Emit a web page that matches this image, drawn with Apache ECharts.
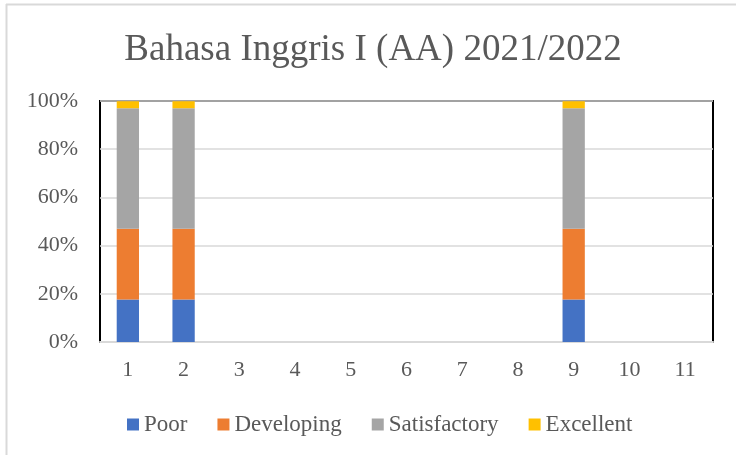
<!DOCTYPE html>
<html>
<head>
<meta charset="utf-8">
<script src="https://cdn.jsdelivr.net/npm/echarts@6/dist/echarts.min.js"></script>
<style>
  html, body { margin: 0; padding: 0; background: #fff; }
  #chart { width: 736px; height: 455px; }
</style>
</head>
<body>
<div id="chart"></div>
<script>
// category labels (1..11)
var categories = ['1', '2', '3', '4', '5', '6', '7', '8', '9', '10', '11'];
// percentages of students per level
var poor         = [17.6, 17.6, 0, 0, 0, 0, 0, 0, 17.6, 0, 0];
var developing   = [29.4, 29.4, 0, 0, 0, 0, 0, 0, 29.4, 0, 0];
var satisfactory = [50.0, 50.0, 0, 0, 0, 0, 0, 0, 50.0, 0, 0];
var excellent    = [2.9, 2.9, 0, 0, 0, 0, 0, 0, 2.9, 0, 0];

var serif = "'Liberation Serif', 'Times New Roman', serif";
var txt = '#595959';

var chart = echarts.init(document.getElementById('chart'));

function bar(name, data, color) {
  return {
    name: name,
    type: 'bar',
    stack: 'total',
    barWidth: '40%',
    itemStyle: { color: color },
    data: data
  };
}

chart.setOption({
  animation: false,
  title: {
    text: 'Bahasa Inggris I (AA) 2021/2022',
    left: 368,
    top: 27,
    textAlign: 'center',
    textStyle: { fontFamily: serif, fontSize: 37, fontWeight: 'normal', color: txt }
  },
  legend: {
    left: 122,
    top: 408,
    icon: 'rect',
    itemWidth: 12,
    itemHeight: 12,
    itemGap: 30,
    textStyle: { fontFamily: serif, fontSize: 23, color: txt }
  },
  grid: {
    left: 100, right: 23, top: 101, bottom: 113,
    show: true, borderColor: '#000', borderWidth: 2
  },
  xAxis: {
    type: 'category',
    data: categories,
    axisTick: { show: false },
    axisLine: { lineStyle: { color: '#d9d9d9', width: 2 } },
    axisLabel: { fontFamily: serif, fontSize: 22, color: txt, margin: 17 }
  },
  yAxis: {
    type: 'value',
    min: 0, max: 100, interval: 20,
    axisLine: { show: false },
    axisLabel: { formatter: '{value}%', fontFamily: serif, fontSize: 22, color: txt, margin: 22 },
    splitLine: { lineStyle: { color: '#d9d9d9', width: 1.5 } }
  },
  graphic: [
    { type: 'line', shape: { x1: 6.5, y1: 4, x2: 6.5, y2: 455 }, style: { stroke: '#d9d9d9', lineWidth: 2 } },
    { type: 'line', shape: { x1: 6, y1: 4.5, x2: 736, y2: 4.5 }, style: { stroke: '#d9d9d9', lineWidth: 2 } }
  ],
  series: [
    bar('Poor', poor, '#4472c4'),
    bar('Developing', developing, '#ed7d31'),
    bar('Satisfactory', satisfactory, '#a5a5a5'),
    bar('Excellent', excellent, '#ffc000')
  ]
});
</script>
</body>
</html>
